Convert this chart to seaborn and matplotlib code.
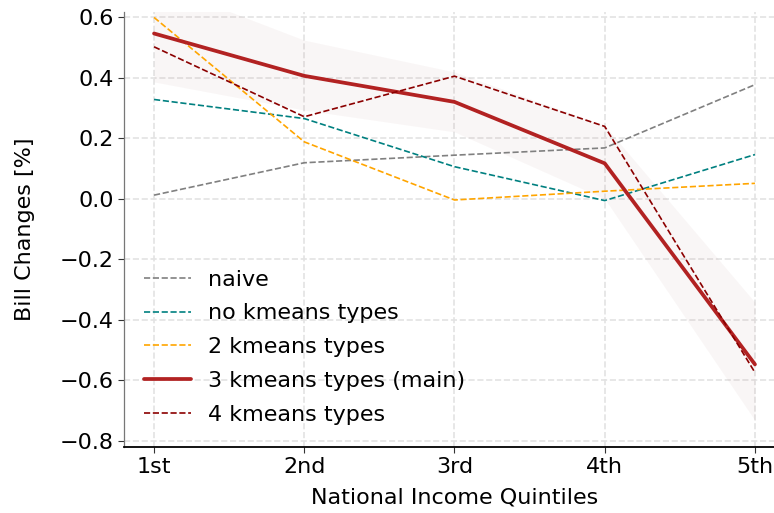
import matplotlib
matplotlib.use("Agg")
import matplotlib.pyplot as plt
import seaborn as sns
import numpy as np
import pandas as pd

quintiles = ["1st", "2nd", "3rd", "4th", "5th"]
naive = [0.012, 0.119, 0.144, 0.168, 0.377]
no_kmeans = [0.328, 0.265, 0.106, -0.006, 0.146]
kmeans2 = [0.599, 0.188, -0.004, 0.025, 0.051]
kmeans3_main = [0.546, 0.406, 0.320, 0.117, -0.547]
kmeans4 = [0.502, 0.271, 0.405, 0.239, -0.574]
band_lower = [0.386, 0.293, 0.221, 0.000, -0.732]
band_upper = [0.714, 0.524, 0.419, 0.242, -0.342]

sns.set_style("white")
plt.rcParams['font.family'] = ['DejaVu Sans']
plt.rcParams['text.color'] = 'black'
plt.rcParams['axes.labelcolor'] = 'black'
plt.rcParams['xtick.color'] = 'black'
plt.rcParams['ytick.color'] = 'black'

fig = plt.figure(figsize=(7.74, 5.13), dpi=100)
ax = fig.add_axes([124/774, (513-447)/513, 661/774, 435/513])

x = np.arange(len(quintiles))
ax.fill_between(x, band_lower, band_upper, color="#8b3a3a", alpha=0.045, lw=0, zorder=1)

series = [
    ("naive", naive, "gray", "--", 1.2),
    ("no kmeans types", no_kmeans, "teal", "--", 1.2),
    ("2 kmeans types", kmeans2, "orange", "--", 1.2),
    ("3 kmeans types (main)", kmeans3_main, "firebrick", "-", 2.7),
    ("4 kmeans types", kmeans4, "darkred", "--", 1.2),
]
for name, vals, col, ls, lw in series:
    df = pd.DataFrame({"q": x, "v": vals})
    sns.lineplot(data=df, x="q", y="v", ax=ax, color=col, linestyle=ls, lw=lw, label=name, zorder=3)

ax.set_xticks(x)
ax.set_xticklabels(quintiles)
ax.set_xlim(-0.2, 4.2)
ax.set_ylim(-0.82, 0.617)
ax.set_yticks([-0.8, -0.6, -0.4, -0.2, 0.0, 0.2, 0.4, 0.6])
ax.grid(True, linestyle="--", color="#e3e3e3", lw=1.2, zorder=0)
ax.set_axisbelow(True)
for s in ["top", "right"]:
    ax.spines[s].set_visible(False)
ax.spines["left"].set_color("#777777")
ax.spines["left"].set_linewidth(0.9)
ax.spines["bottom"].set_color("black")
ax.spines["bottom"].set_linewidth(1.3)
ax.tick_params(axis="both", which="major", labelsize=16, length=4, width=0.8, direction="out",
               bottom=True, left=True, color="#333333", labelcolor="black")
ax.set_xlabel("National Income Quintiles", fontsize=16, color="black", labelpad=7)
ax.set_ylabel("Bill Changes [%]", fontsize=16, color="black", labelpad=18)

leg = ax.legend(loc="lower left", frameon=False, fontsize=16, handlelength=2.1,
                bbox_to_anchor=(0.0, 0.005), labelspacing=0.62)
for t in leg.get_texts():
    t.set_color("black")

fig.savefig("out.png", dpi=100)
